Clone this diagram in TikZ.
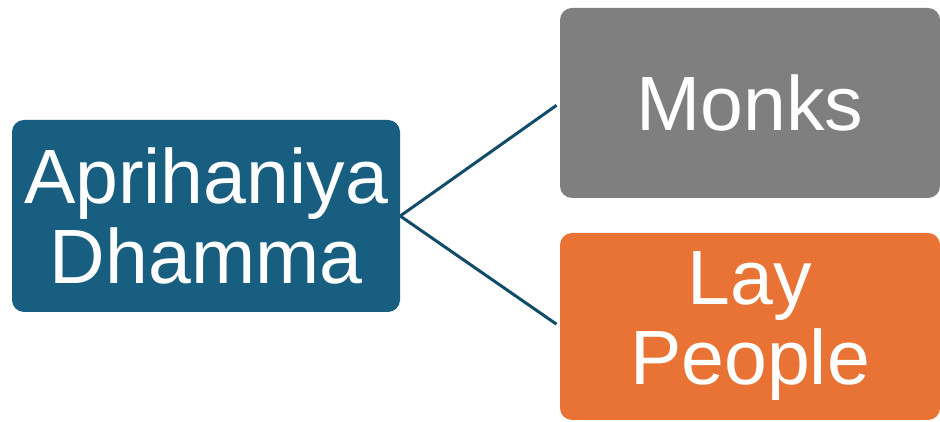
\documentclass[tikz,border=0pt]{standalone}
\usepackage{fontspec}
\setmainfont{Liberation Sans}
\usepackage{tikz}
\usetikzlibrary{positioning}
\definecolor{topicblue}{HTML}{175E80}
\definecolor{monkgray}{HTML}{7F7F7F}
\definecolor{layorange}{HTML}{E97334}
\definecolor{linkblue}{HTML}{124C68}
\tikzset{
    box/.style={
           rectangle,
           rounded corners=12pt,
           text=white,
           inner sep=0pt,
           align=center,
           font=\fontsize{77}{80}\selectfont,
           },
    link/.style={
           draw=linkblue,
           line width=3pt,
           shorten >=4pt,
           },
}
\begin{document}
\begin{tikzpicture}[x=1pt,y=1pt]
 \useasboundingbox (0,0) rectangle (940,422);
 \node[box,
 fill=topicblue,
 minimum width=388pt,
 minimum height=192pt] (AD) at (206,206)
 {Aprihaniya\\Dhamma};
 \node[box,
 fill=monkgray,
 minimum width=380pt,
 minimum height=190pt] (MK) at (750,319)
 {Monks};
 \node[box,
 fill=layorange,
 minimum width=380pt,
 minimum height=187pt] (LP) at (750,95.5)
 {Lay\\People};
 \path[link]
  (AD.east) edge (MK.west)
  (AD.east) edge (LP.west)
 ;
\end{tikzpicture}
\end{document}
